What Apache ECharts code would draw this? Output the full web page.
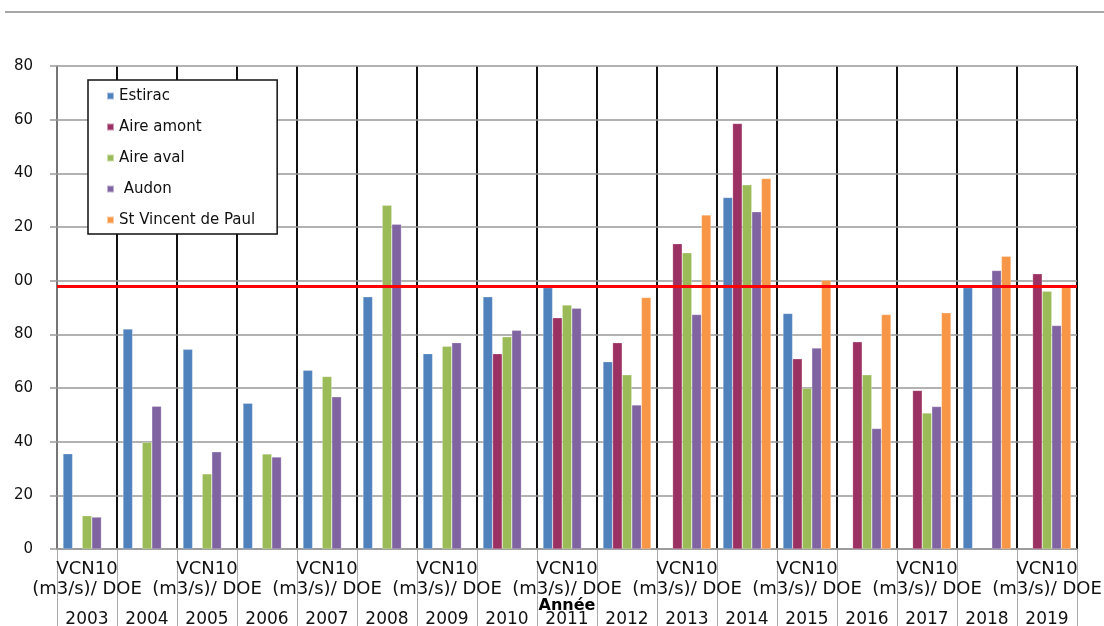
<!DOCTYPE html>
<html>
<head>
<meta charset="utf-8">
<script src="https://cdn.jsdelivr.net/npm/echarts@6/dist/echarts.min.js"></script>
<style>html,body{margin:0;padding:0;background:#fff}#c{width:1104px;height:626px}</style>
</head>
<body>
<div id="c"></div>
<script>
const years = ['2003','2004','2005','2006','2007','2008','2009','2010','2011','2012','2013','2014','2015','2016','2017','2018','2019'];
const rowLabel1 = 'VCN10';
const rowLabel2 = '(m3/s)/ DOE';
const axisTitle = 'Année';
const yTickLabels = ['0','20','40','60','80','00','20','40','60','80'];
const seriesNames = ['Estirac','Aire amont','Aire aval',' Audon','St Vincent de Paul'];
const estirac   = [35.5, 82, 74.4, 54.3, 66.6, 94, 72.8, 94, 97.4, 69.8, null, 131, 87.8, null, null, 97.4, null];
const aireAmont = [null, null, null, null, null, null, null, 72.8, 86.2, 76.9, 113.8, 158.6, 70.9, 77.2, 59.1, null, 102.6];
const aireAval  = [12.4, 39.8, 28, 35.4, 64.3, 128.1, 75.6, 79.1, 90.9, 64.9, 110.4, 135.7, 59.9, 64.9, 50.7, null, 96.1];
const audon     = [11.9, 53.2, 36.2, 34.3, 56.7, 121, 76.9, 81.5, 89.7, 53.7, 87.4, 125.7, 74.9, 44.9, 53.1, 103.8, 83.3];
const stVincent = [null, null, null, null, null, null, null, null, null, 93.7, 124.5, 138.1, 100.2, 87.4, 88, 109.1, 97.8];
const doeLevel = 98;

const colors = ['#4F81BD','#9B3163','#9BBB59','#8064A2','#F79646'];
const allData = [estirac, aireAmont, aireAval, audon, stVincent];
const FONT = 'DejaVu Sans';

const chart = echarts.init(document.getElementById('c'), null, {renderer:'canvas'});
const series = allData.map((d, i) => ({
  name: seriesNames[i],
  type: 'bar',
  data: d,
  barGap: '0%',
  barCategoryGap: '20%',
  itemStyle: {color: colors[i], borderColor: 'rgba(255,255,255,0.5)', borderWidth: 0.5},
  z: 3
}));
series[0].markLine = {
  silent: true,
  symbol: 'none',
  label: {show: false},
  lineStyle: {color: '#FF0000', width: 3, type: 'solid'},
  data: [{yAxis: doeLevel}],
  z: 5
};

chart.setOption({
  animation: false,
  textStyle: {fontFamily: FONT},
  grid: {left: 57, right: 27, top: 66, bottom: 77, containLabel: false, outerBoundsMode: 'none'},
  graphic: [{
    type: 'line', shape: {x1: 5, y1: 12, x2: 1104, y2: 12},
    style: {stroke: '#a6a6a6', lineWidth: 2}
  }],
  legend: {
    orient: 'vertical',
    left: 88, top: 80,
    data: seriesNames,
    icon: 'rect',
    itemWidth: 7, itemHeight: 7,
    itemGap: 15,
    padding: [8, 22, 6, 18],
    backgroundColor: '#fff',
    borderColor: '#111', borderWidth: 1.5,
    textStyle: {fontFamily: FONT, fontSize: 15, color: '#111', lineHeight: 16},
    z: 10
  },
  xAxis: {
    type: 'category',
    data: years,
    name: axisTitle,
    nameLocation: 'middle',
    nameGap: 49,
    nameMoveOverlap: false,
    nameTextStyle: {fontFamily: FONT, fontSize: 16, fontWeight: 'bold', color: '#000'},
    axisLine: {show: true, lineStyle: {color: '#888', width: 1.5}},
    axisTick: {show: true, interval: 0, length: 77, lineStyle: {color: '#aaa', width: 1}},
    splitLine: {show: true, interval: 0, lineStyle: {color: '#111', width: 2}},
    axisLabel: {
      interval: 0,
      margin: 10,
      color: '#111',
      formatter: (v, i) => (i % 2 === 0)
        ? '{a|' + rowLabel1 + '}\n{a|' + rowLabel2 + '}\n{y|' + v + '}'
        : '{a| }\n{a| }\n{y|' + v + '}',
      rich: {
        a: {fontFamily: FONT, fontSize: 18, lineHeight: 20, color: '#111'},
        y: {fontFamily: FONT, fontSize: 17, lineHeight: 42, color: '#111'}
      }
    }
  },
  yAxis: {
    type: 'value',
    min: 0, max: 180, interval: 20,
    z: 1,
    axisLine: {show: true, lineStyle: {color: '#999', width: 1.5}},
    axisTick: {show: true, length: 7, lineStyle: {color: '#999', width: 1.5}},
    splitLine: {show: true, lineStyle: {color: '#999', width: 1.5}},
    axisLabel: {
      margin: 24,
      fontFamily: FONT, fontSize: 15, color: '#111',
      formatter: v => yTickLabels[Math.round(v / 20)]
    }
  },
  series: series
});
</script>
</body>
</html>
